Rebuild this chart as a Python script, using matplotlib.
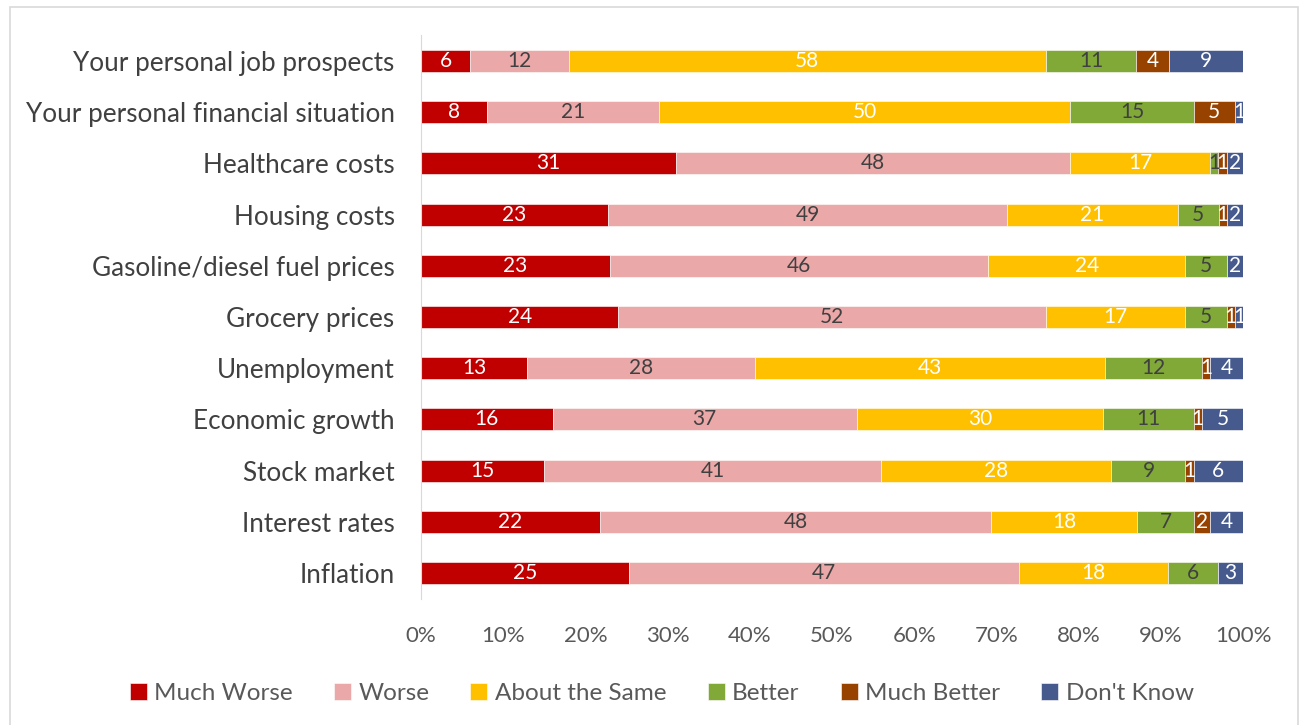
import numpy as np
import matplotlib.pyplot as plt
from matplotlib.patches import Rectangle
from matplotlib.ticker import PercentFormatter

plt.rcParams['font.family'] = ['Lato', 'DejaVu Sans']

categories = ["Your personal job prospects", "Your personal financial situation",
              "Healthcare costs", "Housing costs", "Gasoline/diesel fuel prices",
              "Grocery prices", "Unemployment", "Economic growth", "Stock market",
              "Interest rates", "Inflation"]
much_worse = [6, 8, 31, 23, 23, 24, 13, 16, 15, 22, 25]
worse = [12, 21, 48, 49, 46, 52, 28, 37, 41, 48, 47]
about_same = [58, 50, 17, 21, 24, 17, 43, 30, 28, 18, 18]
better = [11, 15, 1, 5, 5, 5, 12, 11, 9, 7, 6]
much_better = [4, 5, 1, 1, 0, 1, 1, 1, 1, 2, 0]
dont_know = [9, 1, 2, 2, 2, 1, 4, 5, 6, 4, 3]

series = [("Much Worse", much_worse, "#C00000", "white"),
          ("Worse", worse, "#EBA8A8", "#404040"),
          ("About the Same", about_same, "#FFC000", "white"),
          ("Better", better, "#80A937", "#404040"),
          ("Much Better", much_better, "#984200", "white"),
          ("Don't Know", dont_know, "#465A8E", "white")]

data = np.array([s[1] for s in series], dtype=float)
totals = data.sum(axis=0)
shares = data / totals

fig = plt.figure(figsize=(13.01, 7.25), dpi=100)
fig.patches.append(Rectangle((0.008, -0.01), 0.99, 1.0, transform=fig.transFigure,
                             fill=False, edgecolor="#D9D9D9", linewidth=1.2))
ax = fig.add_axes([0.3236, 0.1743, 0.6318, 0.7769])

y = np.arange(len(categories))
left = np.zeros(len(categories))
for (name, vals, color, tcol), frac in zip(series, shares):
    ax.barh(y, frac, left=left, height=0.43, color=color, label=name,
            edgecolor="white", linewidth=0.4)
    for i, (v, f) in enumerate(zip(vals, frac)):
        if v > 0:
            ax.text(left[i] + f / 2, y[i], str(v), ha="center", va="center",
                    color=tcol, fontsize=15)
    left += frac

ax.set_xlim(0, 1)
ax.set_ylim(len(categories) - 0.5, -0.5)
ax.set_yticks(y)
ax.set_yticklabels(categories, fontsize=18.8, color="#404040")
ax.set_xticks(np.linspace(0, 1, 11))
ax.xaxis.set_major_formatter(PercentFormatter(1.0, decimals=0))
ax.tick_params(axis="x", labelsize=16, colors="#595959", length=0, pad=20)
ax.tick_params(axis="y", length=0, pad=19)
for s in ["top", "right", "bottom"]:
    ax.spines[s].set_visible(False)
ax.spines["left"].set_color("#D9D9D9")

ax.legend(loc="center", bbox_to_anchor=(0.5085, 0.043), bbox_transform=fig.transFigure,
          ncol=6, frameon=False, fontsize=17.5, handlelength=0.7, handleheight=0.7,
          handletextpad=0.3, columnspacing=1.7, labelcolor="#595959")

fig.savefig("out.png", dpi=100)
